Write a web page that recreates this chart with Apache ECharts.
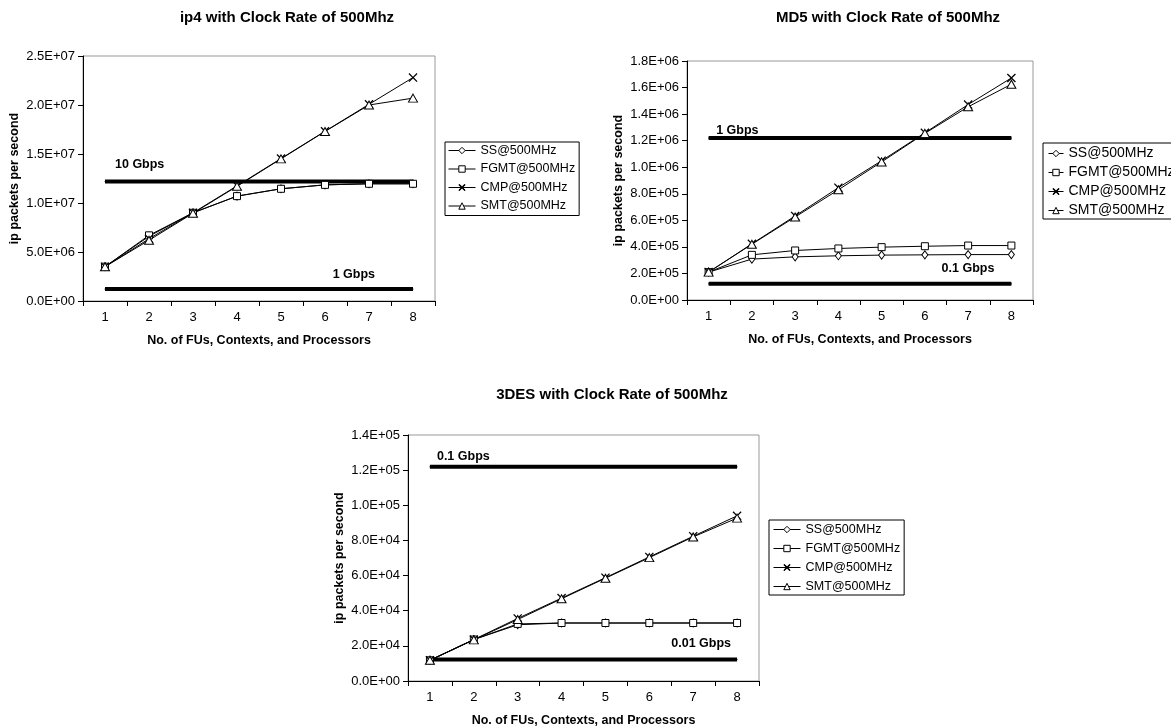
<!DOCTYPE html>
<html>
<head>
<meta charset="utf-8">
<script src="https://cdn.jsdelivr.net/npm/echarts@6/dist/echarts.min.js"></script>
<style>
html,body{margin:0;padding:0;background:#fff;}
#main{width:1171px;height:728px;}
</style>
</head>
<body>
<div id="main"></div>
<script>
const categories = ['1', '2', '3', '4', '5', '6', '7', '8'];
const seriesNames = ['SS@500MHz', 'FGMT@500MHz', 'CMP@500MHz', 'SMT@500MHz'];
const chartTitles = ['ip4 with Clock Rate of 500Mhz', 'MD5 with Clock Rate of 500Mhz', '3DES with Clock Rate of 500Mhz'];
const xAxisTitle = 'No. of FUs, Contexts, and Processors';
const yAxisTitle = 'ip packets per second';

// ip4
const ip4SS   = [3.5e6, 6.6e6, 9.0e6, 1.07e7, 1.145e7, 1.185e7, 1.196e7, 1.196e7];
const ip4FGMT = [3.5e6, 6.7e6, 9.0e6, 1.07e7, 1.145e7, 1.185e7, 1.196e7, 1.196e7];
const ip4CMP  = [3.5e6, 6.35e6, 9.0e6, 1.175e7, 1.454e7, 1.732e7, 2.007e7, 2.28e7];
const ip4SMT  = [3.5e6, 6.2e6, 8.95e6, 1.17e7, 1.45e7, 1.73e7, 2.0e7, 2.07e7];
const ip4Limits = [1.22e7, 1.22e6];
const ip4LimitLabels = ['10 Gbps', '1 Gbps'];
const ip4Axis = { min: 0, max: 2.5e7, interval: 5e6 };

// MD5
const md5SS   = [2.1e5, 3.08e5, 3.25e5, 3.33e5, 3.38e5, 3.4e5, 3.42e5, 3.42e5];
const md5FGMT = [2.1e5, 3.4e5, 3.73e5, 3.88e5, 3.98e5, 4.05e5, 4.1e5, 4.1e5];
const md5CMP  = [2.1e5, 4.23e5, 6.33e5, 8.46e5, 1.049e6, 1.259e6, 1.472e6, 1.672e6];
const md5SMT  = [2.1e5, 4.2e5, 6.25e5, 8.3e5, 1.04e6, 1.255e6, 1.455e6, 1.625e6];
const md5Limits = [1.22e6, 1.22e5];
const md5LimitLabels = ['1 Gbps', '0.1 Gbps'];
const md5Axis = { min: 0, max: 1.8e6, interval: 2e5 };

// 3DES
const desSS   = [1.18e4, 2.36e4, 3.2e4, 3.3e4, 3.3e4, 3.3e4, 3.3e4, 3.3e4];
const desFGMT = [1.18e4, 2.36e4, 3.25e4, 3.3e4, 3.3e4, 3.3e4, 3.3e4, 3.3e4];
const desCMP  = [1.18e4, 2.36e4, 3.56e4, 4.72e4, 5.88e4, 7.06e4, 8.24e4, 9.4e4];
const desSMT  = [1.18e4, 2.34e4, 3.5e4, 4.68e4, 5.85e4, 7.02e4, 8.2e4, 9.27e4];
const desLimits = [1.22e5, 1.22e4];
const desLimitLabels = ['0.1 Gbps', '0.01 Gbps'];
const desAxis = { min: 0, max: 1.4e5, interval: 2e4 };

const FONT = '"Liberation Sans", Arial, sans-serif';
const CROSS = 'path://M0,1L1,0L5,4L9,0L10,1L6,5L10,9L9,10L5,6L1,10L0,9L4,5Z';
const markerStyles = [
  { symbol: 'diamond', symbolSize: [6, 8], itemStyle: { color: '#fff', borderColor: '#000', borderWidth: 1 } },
  { symbol: 'rect', symbolSize: 7, itemStyle: { color: '#fff', borderColor: '#000', borderWidth: 1 } },
  { symbol: CROSS, symbolSize: 9, itemStyle: { color: '#000', borderColor: '#000', borderWidth: 0 } },
  { symbol: 'triangle', symbolSize: [9, 8], itemStyle: { color: '#fff', borderColor: '#000', borderWidth: 1 } }
];

function sci(v) {
  const parts = v.toExponential(1).split('e');
  const sign = parts[1][0];
  const digits = parts[1].slice(1).padStart(2, '0');
  return parts[0] + 'E' + sign + digits;
}

const grids = [
  { left: 83, top: 56, width: 352, height: 245 },
  { left: 687, top: 61, width: 346, height: 239 },
  { left: 408, top: 435, width: 351, height: 246 }
];
const titleCenters = [[287, 10], [888, 10], [612, 387]];
const legendBoxes = [
  { left: 445, top: 142, itemWidth: 27, padding: [1, 4, 2, 3], itemGap: 3.5, fontSize: 12.5 },
  { left: 1043, top: 143, itemWidth: 15, padding: [3, 4, 1, 5], itemGap: 4, fontSize: 14 },
  { left: 769, top: 520, itemWidth: 27, padding: [2, 4, 1, 4], itemGap: 4, fontSize: 12.5 }
];
// label placement [index, align, dx, dy] for each limit line
const limitLabelPlacement = [
  [[0, 'left', 10, -16], [7, 'right', -38, -14]],
  [[0, 'left', 7.5, -7], [7, 'right', -17, -15]],
  [[0, 'left', 7, -9.5], [7, 'right', -6, -15.4]]
];

const datasets = [
  { series: [ip4SS, ip4FGMT, ip4CMP, ip4SMT], limits: ip4Limits, labels: ip4LimitLabels, axis: ip4Axis },
  { series: [md5SS, md5FGMT, md5CMP, md5SMT], limits: md5Limits, labels: md5LimitLabels, axis: md5Axis },
  { series: [desSS, desFGMT, desCMP, desSMT], limits: desLimits, labels: desLimitLabels, axis: desAxis }
];

const option = {
  animation: false,
  backgroundColor: '#fff',
  title: [], grid: [], xAxis: [], yAxis: [], legend: [], series: []
};

datasets.forEach((ds, g) => {
  option.title.push({
    text: chartTitles[g], left: titleCenters[g][0], top: titleCenters[g][1], textAlign: 'center', padding: 0,
    textStyle: { fontFamily: FONT, fontSize: 15, fontWeight: 'bold', color: '#000' }
  });
  option.grid.push(Object.assign({ show: true, borderColor: '#999', borderWidth: 1, backgroundColor: 'transparent', containLabel: false }, grids[g]));
  option.xAxis.push({
    type: 'category', gridIndex: g, data: categories, boundaryGap: true,
    name: xAxisTitle, nameLocation: 'middle', nameGap: 33,
    nameTextStyle: { fontFamily: FONT, fontSize: 12.5, fontWeight: 'bold', color: '#000' },
    axisLine: { lineStyle: { color: '#000', width: 1 } },
    axisTick: { show: true, inside: false, length: 5, lineStyle: { color: '#000' } },
    axisLabel: { fontFamily: FONT, fontSize: 13, color: '#000', margin: 10 },
    splitLine: { show: false }
  });
  option.yAxis.push({
    type: 'value', gridIndex: g, min: ds.axis.min, max: ds.axis.max, interval: ds.axis.interval,
    name: yAxisTitle, nameLocation: 'middle', nameGap: 62,
    nameTextStyle: { fontFamily: FONT, fontSize: 12.5, fontWeight: 'bold', color: '#000' },
    axisLine: { show: true, lineStyle: { color: '#000', width: 1 } },
    axisTick: { show: true, inside: false, length: 5, lineStyle: { color: '#000' } },
    axisLabel: { fontFamily: FONT, fontSize: 13, color: '#000', margin: 8, formatter: sci },
    splitLine: { show: false }
  });
  const lb = legendBoxes[g];
  option.legend.push({
    orient: 'vertical', data: seriesNames, selectedMode: false,
    left: lb.left, top: lb.top, itemWidth: lb.itemWidth, padding: lb.padding, itemGap: lb.itemGap,
    itemHeight: 8, borderColor: '#000', borderWidth: 1, backgroundColor: '#fff',
    lineStyle: { width: 1, color: '#000' },
    itemStyle: { borderWidth: 1 },
    textStyle: { fontFamily: FONT, fontSize: lb.fontSize, color: '#000', lineHeight: 15 }
  });

  // limit lines
  ds.limits.forEach((lv, k) => {
    const pl = limitLabelPlacement[g][k];
    option.series.push({
      type: 'line', xAxisIndex: g, yAxisIndex: g, name: 'limit' + g + k,
      symbol: 'circle', symbolSize: 1, showSymbol: true,
      itemStyle: { color: '#000' },
      lineStyle: { color: '#000', width: 4 },
      silent: true, z: 2,
      label: { show: false },
      data: categories.map((c, i) => i === pl[0] ? {
        value: lv,
        label: {
          show: true, formatter: ds.labels[k], position: 'top', distance: 0,
          align: pl[1], verticalAlign: 'middle', offset: [pl[2], pl[3]],
          fontFamily: FONT, fontSize: 12.5, fontWeight: 'bold', color: '#000'
        }
      } : lv)
    });
  });

  ds.series.forEach((vals, s) => {
    option.series.push(Object.assign({
      type: 'line', xAxisIndex: g, yAxisIndex: g, name: seriesNames[s],
      showSymbol: true, z: 3,
      lineStyle: { color: '#000', width: 1 },
      emphasis: { disabled: true },
      data: vals
    }, markerStyles[s]));
  });
});

const chart = echarts.init(document.getElementById('main'), null, { renderer: 'canvas' });
chart.setOption(option);
</script>
</body>
</html>
